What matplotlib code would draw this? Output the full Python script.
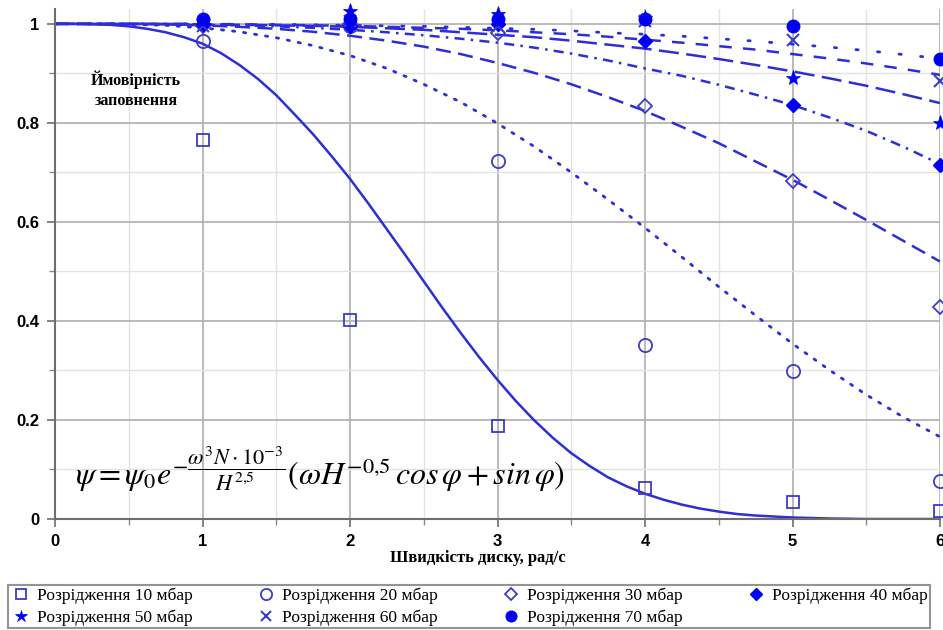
import matplotlib
matplotlib.use("Agg")
import matplotlib.pyplot as plt
from matplotlib.lines import Line2D
from matplotlib.ticker import MultipleLocator

# curves
x_fine = [0.0, 0.125, 0.25, 0.375, 0.5, 0.625, 0.75, 0.875, 1.0, 1.125, 1.25, 1.375, 1.5,
          1.625, 1.75, 1.875, 2.0, 2.125, 2.25, 2.375, 2.5, 2.625, 2.75, 2.875, 3.0,
          3.125, 3.25, 3.375, 3.5, 3.625, 3.75, 3.875, 4.0, 4.125, 4.25, 4.375, 4.5,
          4.625, 4.75, 4.875, 5.0, 5.25, 5.5, 5.75, 6.0]
curve_10 = [1.000, 1.000, 0.999, 0.998, 0.995, 0.990, 0.983, 0.973, 0.960, 0.941, 0.917, 0.889, 0.856,
            0.817, 0.777, 0.733, 0.687, 0.637, 0.585, 0.533, 0.480, 0.427, 0.376, 0.327, 0.281,
            0.238, 0.199, 0.164, 0.133, 0.107, 0.084, 0.066, 0.051, 0.039, 0.029, 0.021, 0.015,
            0.010, 0.007, 0.005, 0.003, 0.001, 0.000, 0.000, 0.000]

x_curve = [0.0, 0.25, 0.5, 0.75, 1.0, 1.25, 1.5, 1.75, 2.0, 2.25, 2.5, 2.75, 3.0,
           3.25, 3.5, 3.75, 4.0, 4.25, 4.5, 4.75, 5.0, 5.25, 5.5, 5.75, 6.0]
curve_20 = [1.000, 1.000, 0.999, 0.997, 0.992, 0.984, 0.972, 0.956, 0.936, 0.910, 0.878, 0.842, 0.799,
            0.752, 0.700, 0.645, 0.588, 0.529, 0.469, 0.411, 0.354, 0.301, 0.251, 0.206, 0.166]
curve_30 = [1.000, 1.000, 1.000, 0.999, 0.997, 0.994, 0.990, 0.984, 0.976, 0.966, 0.954, 0.939, 0.921,
            0.901, 0.878, 0.852, 0.824, 0.792, 0.759, 0.722, 0.685, 0.645, 0.604, 0.562, 0.520]
curve_40 = [1.000, 1.000, 1.000, 0.999, 0.998, 0.997, 0.995, 0.992, 0.988, 0.983, 0.977, 0.970, 0.962,
            0.952, 0.940, 0.926, 0.910, 0.895, 0.877, 0.857, 0.836, 0.811, 0.784, 0.752, 0.717]
curve_50 = [1.000, 1.000, 1.000, 1.000, 0.999, 0.998, 0.997, 0.996, 0.994, 0.991, 0.988, 0.983, 0.978,
            0.973, 0.966, 0.958, 0.950, 0.940, 0.929, 0.917, 0.904, 0.890, 0.875, 0.858, 0.840]
curve_60 = [1.000, 1.000, 1.000, 1.000, 1.000, 0.999, 0.998, 0.997, 0.996, 0.994, 0.992, 0.990, 0.987,
            0.983, 0.979, 0.974, 0.968, 0.962, 0.955, 0.948, 0.939, 0.930, 0.920, 0.909, 0.897]
curve_70 = [1.000, 1.000, 1.000, 1.000, 1.000, 0.999, 0.999, 0.998, 0.997, 0.996, 0.995, 0.993, 0.991,
            0.989, 0.986, 0.982, 0.979, 0.975, 0.970, 0.965, 0.959, 0.953, 0.946, 0.938, 0.930]

# measured points
x_pts = [1, 2, 3, 4, 5, 6]
pts_10 = [0.766, 0.402, 0.188, 0.063, 0.034, 0.017]
pts_20 = [0.965, 0.995, 0.723, 0.352, 0.299, 0.077]
pts_30 = [0.995, 1.000, 0.982, 0.834, 0.683, 0.428]
pts_40 = [1.000, 0.995, 1.000, 0.966, 0.836, 0.715]
pts_50 = [1.005, 1.025, 1.020, 1.012, 0.890, 0.800]
pts_60 = [0.995, 1.005, 0.995, 1.005, 0.967, 0.884]
pts_70 = [1.010, 1.010, 1.010, 1.010, 0.995, 0.930]

labels = ["Розрідження 10 мбар", "Розрідження 20 мбар", "Розрідження 30 мбар", "Розрідження 40 мбар",
          "Розрідження 50 мбар", "Розрідження 60 мбар", "Розрідження 70 мбар"]

line_c = "#2e2ed6"
open_c = "#3c3cc8"
fill_c = "#0000f0"

plt.rcParams["mathtext.fontset"] = "stix"

fig = plt.figure(figsize=(9.43, 6.3), dpi=100)
ax = fig.add_axes([55 / 943, 111 / 630, 885 / 943, 510 / 630])

lw = 1.8
ax.plot(x_fine, curve_10, color=line_c, lw=lw, ls="-")
ax.plot(x_curve, curve_20, color=line_c, lw=2.0, ls=(0, (0.8, 3.2)), dash_capstyle="round")
ax.plot(x_curve, curve_30, color=line_c, lw=lw, ls=(0, (6, 3)))
ax.plot(x_curve, curve_40, color=line_c, lw=lw, ls=(0, (4, 2.5, 1, 2.5)))
ax.plot(x_curve, curve_50, color=line_c, lw=lw, ls=(0, (8, 3)))
ax.plot(x_curve, curve_60, color=line_c, lw=lw, ls=(0, (5, 4.5)))
ax.plot(x_curve, curve_70, color=line_c, lw=2.0, ls=(0, (0.8, 7)), dash_capstyle="round")

specs = [
    (pts_10, dict(marker="s", mfc="none", mec=open_c, ms=9, mew=1.3)),
    (pts_20, dict(marker="o", mfc="none", mec=open_c, ms=9.5, mew=1.3)),
    (pts_30, dict(marker="D", mfc="none", mec=open_c, ms=7.5, mew=1.3)),
    (pts_40, dict(marker="D", mfc=fill_c, mec=fill_c, ms=7.5, mew=1)),
    (pts_50, dict(marker="*", mfc=fill_c, mec=fill_c, ms=11, mew=0.5)),
    (pts_60, dict(marker="x", mfc=open_c, mec=open_c, ms=9, mew=1.5)),
    (pts_70, dict(marker="o", mfc=fill_c, mec=fill_c, ms=9, mew=1)),
]
handles = []
for pts, kw in specs:
    ax.plot(x_pts, pts, ls="none", clip_on=False, zorder=5, **kw)
    handles.append(Line2D([], [], ls="none", **kw))

ax.set_xlim(0, 6)
ax.set_ylim(0, 1.03)
ax.xaxis.set_major_locator(MultipleLocator(1))
ax.xaxis.set_minor_locator(MultipleLocator(0.5))
ax.yaxis.set_minor_locator(MultipleLocator(0.1))
ax.set_yticks([0, 0.2, 0.4, 0.6, 0.8, 1.0])
ax.set_yticklabels(["0", "0.2", "0.4", "0.6", "0.8", "1"])
ax.grid(which="major", color="#b4b4b4", lw=1.3)
ax.grid(which="minor", color="#e2e2e2", lw=1.0)
ax.set_axisbelow(True)
for s in ["top", "right"]:
    ax.spines[s].set_visible(False)
for s in ["left", "bottom"]:
    ax.spines[s].set_color("#6e6e6e")
    ax.spines[s].set_linewidth(1.5)
ax.tick_params(which="major", length=6, width=1.2, color="#6e6e6e", pad=5)
ax.tick_params(which="minor", length=4, width=1.0, color="#8a8a8a")
for t in ax.get_xticklabels() + ax.get_yticklabels():
    t.set_fontfamily("Liberation Sans")
    t.set_fontweight("bold")
    t.set_fontsize(12)

ax.text(0.55, 0.867, "Ймовірність\nзаповнення", ha="center", va="center",
        family="Liberation Serif", weight="bold", fontsize=11.5, linespacing=1.4)

ax.text(0.136, 0.068,
        r"$\psi = \psi_0 e^{-\dfrac{\omega^3 N\cdot 10^{-3}}{H^{2{,}5}}}(\omega H^{-0{,}5}\,cos\,\varphi + sin\,\varphi)$",
        ha="left", va="baseline", fontsize=23)

fig.text(478 / 943, 1 - 558 / 630, "Швидкість диску, рад/с", ha="center", va="center",
         family="Liberation Serif", weight="bold", fontsize=12)

# matplotlib fills legend columns first, so reorder to get row-wise reading
order = [0, 4, 1, 5, 2, 6, 3]
leg = fig.legend([handles[i] for i in order], [labels[i] for i in order], ncol=4,
                 loc="upper left", mode="expand",
                 bbox_to_anchor=(8 / 943, 0 / 630, 922 / 943, 45 / 630),
                 prop={"family": "Liberation Serif", "size": 12.5},
                 frameon=True, fancybox=False, edgecolor="#7a7a7a",
                 handletextpad=0.3, columnspacing=1.0, handlelength=1.2,
                 borderpad=0.15, labelspacing=0.3, markerscale=0.85,
                 borderaxespad=0.0)
leg.get_frame().set_linewidth(1.5)

fig.savefig("out.png", dpi=100)
